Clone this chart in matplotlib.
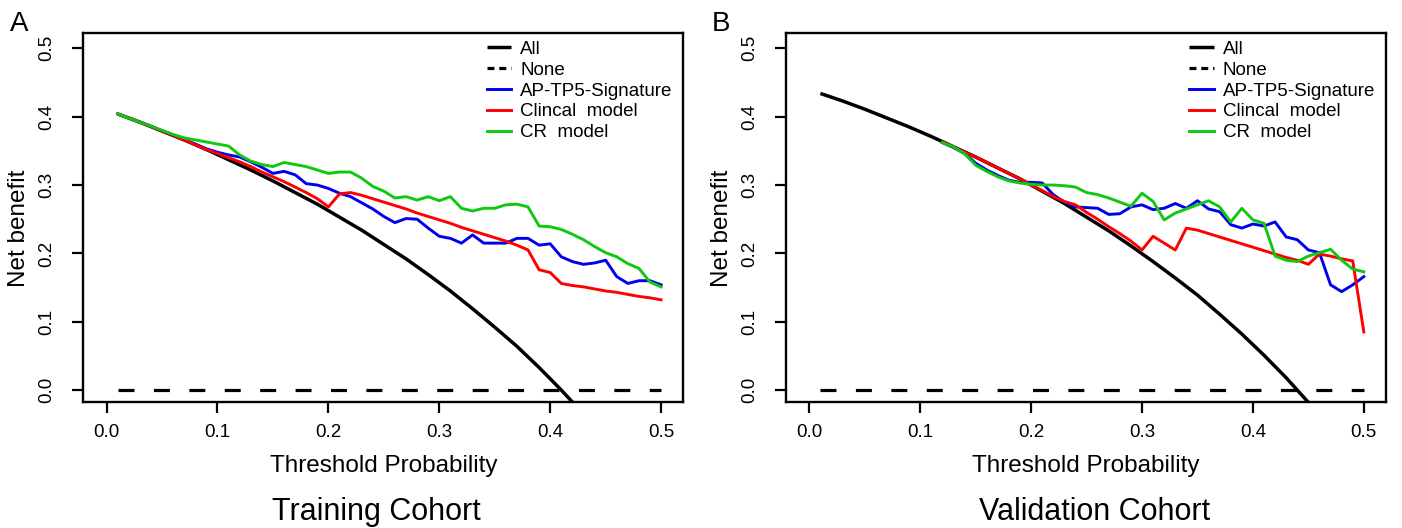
import matplotlib
matplotlib.use("Agg")
import matplotlib.pyplot as plt
from matplotlib.lines import Line2D

plt.rcParams['font.family'] = ['Liberation Sans', 'DejaVu Sans']
plt.rcParams['lines.scale_dashes'] = False

# ---------------- data ----------------
thresholds = [round(0.01 * i, 2) for i in range(1, 51)]

# Panel A (training cohort)
all_t_A = [0.01, 0.03, 0.05, 0.07, 0.09, 0.11, 0.13, 0.15, 0.17, 0.19, 0.21,
           0.23, 0.25, 0.27, 0.29, 0.31, 0.33, 0.35, 0.37, 0.39, 0.41, 0.43]
all_nb_A = [0.404, 0.392, 0.379, 0.366, 0.352, 0.337, 0.322, 0.306, 0.289, 0.272,
            0.253, 0.234, 0.213, 0.192, 0.169, 0.145, 0.119, 0.092, 0.064, 0.033,
            0.000, -0.035]
sig_A = [0.404, 0.398, 0.392, 0.386, 0.379, 0.373, 0.366, 0.360, 0.353, 0.348,
         0.344, 0.341, 0.334, 0.326, 0.317, 0.320, 0.315, 0.302, 0.300, 0.295,
         0.288, 0.283, 0.274, 0.265, 0.254, 0.245, 0.251, 0.250, 0.237, 0.225,
         0.222, 0.215, 0.227, 0.215, 0.215, 0.215, 0.222, 0.222, 0.212, 0.214,
         0.195, 0.188, 0.184, 0.186, 0.190, 0.166, 0.156, 0.160, 0.160, 0.154]
clin_A = [0.404, 0.398, 0.392, 0.386, 0.379, 0.373, 0.366, 0.359, 0.352, 0.346,
          0.340, 0.334, 0.327, 0.319, 0.312, 0.305, 0.297, 0.289, 0.280, 0.268,
          0.287, 0.289, 0.285, 0.280, 0.275, 0.270, 0.265, 0.259, 0.254, 0.249,
          0.244, 0.238, 0.233, 0.228, 0.223, 0.218, 0.212, 0.205, 0.176, 0.172,
          0.156, 0.153, 0.151, 0.148, 0.145, 0.143, 0.140, 0.137, 0.135, 0.132]
cr_A = [0.404, 0.398, 0.392, 0.386, 0.380, 0.374, 0.369, 0.366, 0.363, 0.360,
        0.357, 0.344, 0.335, 0.330, 0.327, 0.333, 0.330, 0.327, 0.322, 0.317,
        0.319, 0.319, 0.310, 0.298, 0.291, 0.281, 0.283, 0.278, 0.283, 0.277,
        0.283, 0.266, 0.262, 0.266, 0.266, 0.271, 0.272, 0.268, 0.240, 0.239,
        0.235, 0.228, 0.220, 0.210, 0.201, 0.195, 0.185, 0.178, 0.158, 0.151]

# Panel B (validation cohort)
all_t_B = [0.01, 0.03, 0.05, 0.07, 0.09, 0.11, 0.13, 0.15, 0.17, 0.19, 0.21,
           0.23, 0.25, 0.27, 0.29, 0.31, 0.33, 0.35, 0.37, 0.39, 0.41, 0.43,
           0.45, 0.46]
all_nb_B = [0.434, 0.423, 0.411, 0.398, 0.385, 0.371, 0.356, 0.341, 0.325, 0.309,
            0.291, 0.273, 0.253, 0.233, 0.211, 0.188, 0.164, 0.139, 0.111, 0.082,
            0.051, 0.018, -0.018, -0.037]
thresholds_B = [round(0.01 * i, 2) for i in range(12, 51)]
sig_B = [0.362, 0.355, 0.346, 0.332, 0.322, 0.314, 0.307, 0.304, 0.304, 0.303,
         0.286, 0.275, 0.268, 0.267, 0.266, 0.257, 0.258, 0.268, 0.271, 0.264,
         0.266, 0.273, 0.266, 0.277, 0.265, 0.261, 0.242, 0.237, 0.243, 0.240,
         0.246, 0.224, 0.220, 0.205, 0.201, 0.154, 0.144, 0.154, 0.166]
clin_B = [0.363, 0.356, 0.348, 0.341, 0.333, 0.325, 0.317, 0.309, 0.300, 0.292,
          0.283, 0.276, 0.271, 0.260, 0.250, 0.239, 0.229, 0.218, 0.205, 0.225,
          0.215, 0.205, 0.237, 0.234, 0.229, 0.224, 0.219, 0.214, 0.209, 0.204,
          0.199, 0.194, 0.190, 0.184, 0.199, 0.196, 0.192, 0.189, 0.085]
cr_B = [0.362, 0.356, 0.346, 0.329, 0.320, 0.312, 0.306, 0.303, 0.301, 0.300,
        0.300, 0.299, 0.297, 0.289, 0.286, 0.281, 0.275, 0.269, 0.288, 0.276,
        0.249, 0.259, 0.265, 0.271, 0.277, 0.268, 0.246, 0.266, 0.249, 0.244,
        0.196, 0.190, 0.188, 0.196, 0.201, 0.206, 0.190, 0.177, 0.173]

none_t = [0.01, 0.50]
none_nb = [0.0, 0.0]

labels = ["All", "None", "AP-TP5-Signature", "Clincal  model", "CR  model"]
xticks = [0.0, 0.1, 0.2, 0.3, 0.4, 0.5]
xticklabels = ["0.0", "0.1", "0.2", "0.3", "0.4", "0.5"]
yticks = [0.0, 0.1, 0.2, 0.3, 0.4, 0.5]
yticklabels = ["0.0", "0.1", "0.2", "0.3", "0.4", "0.5"]
panels = ["A", "B"]
subtitles = ["Training Cohort", "Validation Cohort"]

BLUE = "#0000EE"
RED = "#FF0000"
GREEN = "#10C810"

W, H = 1402, 528
fig = plt.figure(figsize=(W / 100, H / 100), dpi=100)

def px_axes(left, top, right, bottom):
    return [left / W, 1 - bottom / H, (right - left) / W, (bottom - top) / H]

axes = [fig.add_axes(px_axes(83.3, 33.3, 683.3, 401.7)),
        fig.add_axes(px_axes(786.0, 33.3, 1386.0, 401.7))]

data = [
    (all_t_A, all_nb_A, thresholds, sig_A, clin_A, cr_A),
    (all_t_B, all_nb_B, thresholds_B, sig_B, clin_B, cr_B),
]
subtitle_x = [0.488, 0.515]

for i, ax in enumerate(axes):
    at, anb, tt, sig, clin, cr = data[i]
    h_all, = ax.plot(at, anb, color="black", lw=2.5, solid_capstyle="butt")
    ax.plot(none_t, none_nb, color="black", lw=2.3, dashes=(11.5, 14))
    h_sig, = ax.plot(tt, sig, color=BLUE, lw=2.1)
    h_clin, = ax.plot(tt, clin, color=RED, lw=2.1)
    h_cr, = ax.plot(tt, cr, color=GREEN, lw=2.1)
    h_none = Line2D([], [], color="black", lw=2.3, dashes=(5, 3.5))

    ax.set_xlim(-0.021, 0.520)
    ax.set_ylim(-0.017, 0.522)
    ax.set_xticks(xticks)
    ax.set_xticklabels(xticklabels)
    ax.set_yticks(yticks)
    ax.set_yticklabels(yticklabels, rotation=90, va="center")
    ax.tick_params(axis="both", direction="out", length=8, width=1.6,
                   labelsize=13.5, color="black")
    ax.tick_params(axis="x", pad=8)
    ax.tick_params(axis="y", pad=12)
    for s in ax.spines.values():
        s.set_linewidth(1.7)
        s.set_color("black")

    ax.set_xlabel("Threshold Probability", fontsize=17.5)
    ax.xaxis.set_label_coords(0.5, -0.145)
    ax.xaxis.label.set_va("top")
    ax.set_ylabel("Net benefit", fontsize=17.5)
    ax.yaxis.set_label_coords(-0.088, 0.47)

    ax.text(subtitle_x[i], -0.3, subtitles[i], transform=ax.transAxes, ha="center",
            va="center", fontsize=22)

    ax.legend([h_all, h_none, h_sig, h_clin, h_cr], labels,
              loc="upper left", bbox_to_anchor=(0.672, 0.98), frameon=False,
              fontsize=13.5, handlelength=1.3, handletextpad=0.5,
              labelspacing=0.2, borderpad=0, borderaxespad=0)

fig.text(10 / W, 1 - 24 / H, panels[0], fontsize=20, va="center", ha="left")
fig.text(712 / W, 1 - 24 / H, panels[1], fontsize=20, va="center", ha="left")

fig.savefig("out.png", dpi=100)
